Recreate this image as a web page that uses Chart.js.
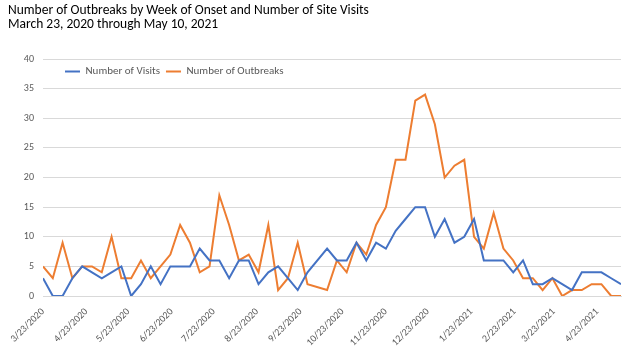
<!DOCTYPE html>
<html>
<head>
<meta charset="utf-8">
<script src="https://cdn.jsdelivr.net/npm/chart.js@4/dist/chart.umd.min.js"></script>
<style>
	html, body { margin: 0; padding: 0; background: #fff; }
	#wrap { width: 626px; height: 348px; }
</style>
</head>
<body>
<div id="wrap"><canvas id="chart" width="626" height="348"></canvas></div>
<script>
var titleLines = [
	'Number of Outbreaks by Week of Onset and Number of Site Visits',
	'March 23, 2020 through May 10, 2021'
];

// one value per week starting 3/23/2020, null = week not in the data
var visits = [3, 0, 0, 3, 5, 4, 3, 4, 5, 0, 2, 5, 2, 5, 5, 5, 8, 6, 6, 3,
	6, 6, 2, 4, 5, 3, 1, 4, null, 8, 6, 6, 9, 6, 9, 8, 11, 13, 15, 15,
	10, 13, 9, 10, 13, 6, 6, 6, 4, 6, 2, 2, 3, 2, 1, 4, 4, 4, 3, 2];
var outbreaks = [5, 3, 9, 3, 5, 5, 4, 10, 3, 3, 6, 3, 5, 7, 12, 9, 4, 5, 17, 12,
	6, 7, 4, 12, 1, 3, 9, 2, null, 1, 6, 4, 9, 7, 12, 15, 23, 23, 33, 34,
	29, 20, 22, 23, 10, 8, 14, 8, 6, 3, 3, 1, 3, 0, 1, 1, 2, 2, 0, 0];

var tickLabels = ['3/23/2020', '4/23/2020', '5/23/2020', '6/23/2020', '7/23/2020',
	'8/23/2020', '9/23/2020', '10/23/2020', '11/23/2020', '12/23/2020',
	'1/23/2021', '2/23/2021', '3/23/2021', '4/23/2021'];

var startDay = new Date(2020, 2, 23);
var endDay = new Date(2021, 4, 10);

function dayOffset(d) {
	return Math.round((d - startDay) / 86400000);
}
function parseDate(s) {
	var p = s.split('/');
	return new Date(+p[2], +p[0] - 1, +p[1]);
}

var tickDays = tickLabels.map(function (s) {
	return dayOffset(parseDate(s));
});

function toPoints(arr) {
	return arr.map(function (v, i) {
		return { x: i * 7, y: v };
	});
}

var fontFamily = 'Carlito, Lato, "Liberation Sans", sans-serif';
var grey = '#595959';

// legend sits inside the plot, top left, like the excel one
var legendMove = {
	id: 'legendMove',
	afterLayout: function (chart) {
		var lg = chart.legend;
		if (!lg) return;
		var h = lg.bottom - lg.top;
		var dx = 59 - lg.left;
		lg.top = 60;
		lg.bottom = 60 + h;
		lg.left += dx;
		lg.right += dx;
	}
};

var ctx = document.getElementById('chart').getContext('2d');
var chart = new Chart(ctx, {
	type: 'line',
	data: {
		datasets: [{
			label: 'Number of Visits',
			data: toPoints(visits),
			borderColor: '#4472C4',
			backgroundColor: '#4472C4',
			borderWidth: 2,
			pointRadius: 0,
			tension: 0,
			spanGaps: true
		}, {
			label: 'Number of Outbreaks',
			data: toPoints(outbreaks),
			borderColor: '#ED7D31',
			backgroundColor: '#ED7D31',
			borderWidth: 2,
			pointRadius: 0,
			tension: 0,
			spanGaps: true
		}]
	},
	options: {
		responsive: false,
		animation: false,
		layout: { padding: { left: 8, right: 5, top: 0, bottom: 0 } },
		plugins: {
			tooltip: { enabled: false },
			title: {
				display: true,
				text: titleLines,
				align: 'start',
				color: '#000',
				font: { family: fontFamily, size: 13.5, weight: 'normal', lineHeight: 1.04 },
				padding: { top: 4, bottom: 0 }
			},
			legend: {
				position: 'top',
				align: 'start',
				labels: {
					boxWidth: 15,
					boxHeight: 2,
					padding: 6,
					color: grey,
					font: { family: fontFamily, size: 11 },
					generateLabels: function (chart) {
						var items = Chart.defaults.plugins.legend.labels.generateLabels(chart);
						items.forEach(function (it) {
							it.fillStyle = it.strokeStyle;
							it.lineWidth = 0;
						});
						return items;
					}
				}
			}
		},
		scales: {
			x: {
				type: 'linear',
				min: 0,
				max: dayOffset(endDay),
				grid: { display: false },
				border: { display: true, color: '#d9d9d9', width: 1 },
				afterBuildTicks: function (scale) {
					scale.ticks = tickDays.map(function (d) { return { value: d }; });
				},
				afterFit: function (scale) {
					scale.height = 52;
					scale.paddingLeft = 0;
					scale.paddingRight = 0;
				},
				ticks: {
					autoSkip: false,
					minRotation: 45,
					maxRotation: 45,
					padding: 2,
					color: grey,
					font: { family: fontFamily, size: 10 },
					callback: function (value) {
						var i = tickDays.indexOf(value);
						return i >= 0 ? tickLabels[i] : '';
					}
				}
			},
			y: {
				min: 0,
				max: 40,
				grid: { color: '#d9d9d9', lineWidth: 1, drawTicks: false },
				border: { display: false },
				afterFit: function (scale) {
					scale.width = 35;
					scale.paddingTop = 0;
					scale.paddingBottom = 0;
				},
				ticks: {
					stepSize: 5,
					padding: 9,
					color: grey,
					font: { family: fontFamily, size: 10 }
				}
			}
		}
	},
	plugins: [legendMove]
});
</script>
</body>
</html>
